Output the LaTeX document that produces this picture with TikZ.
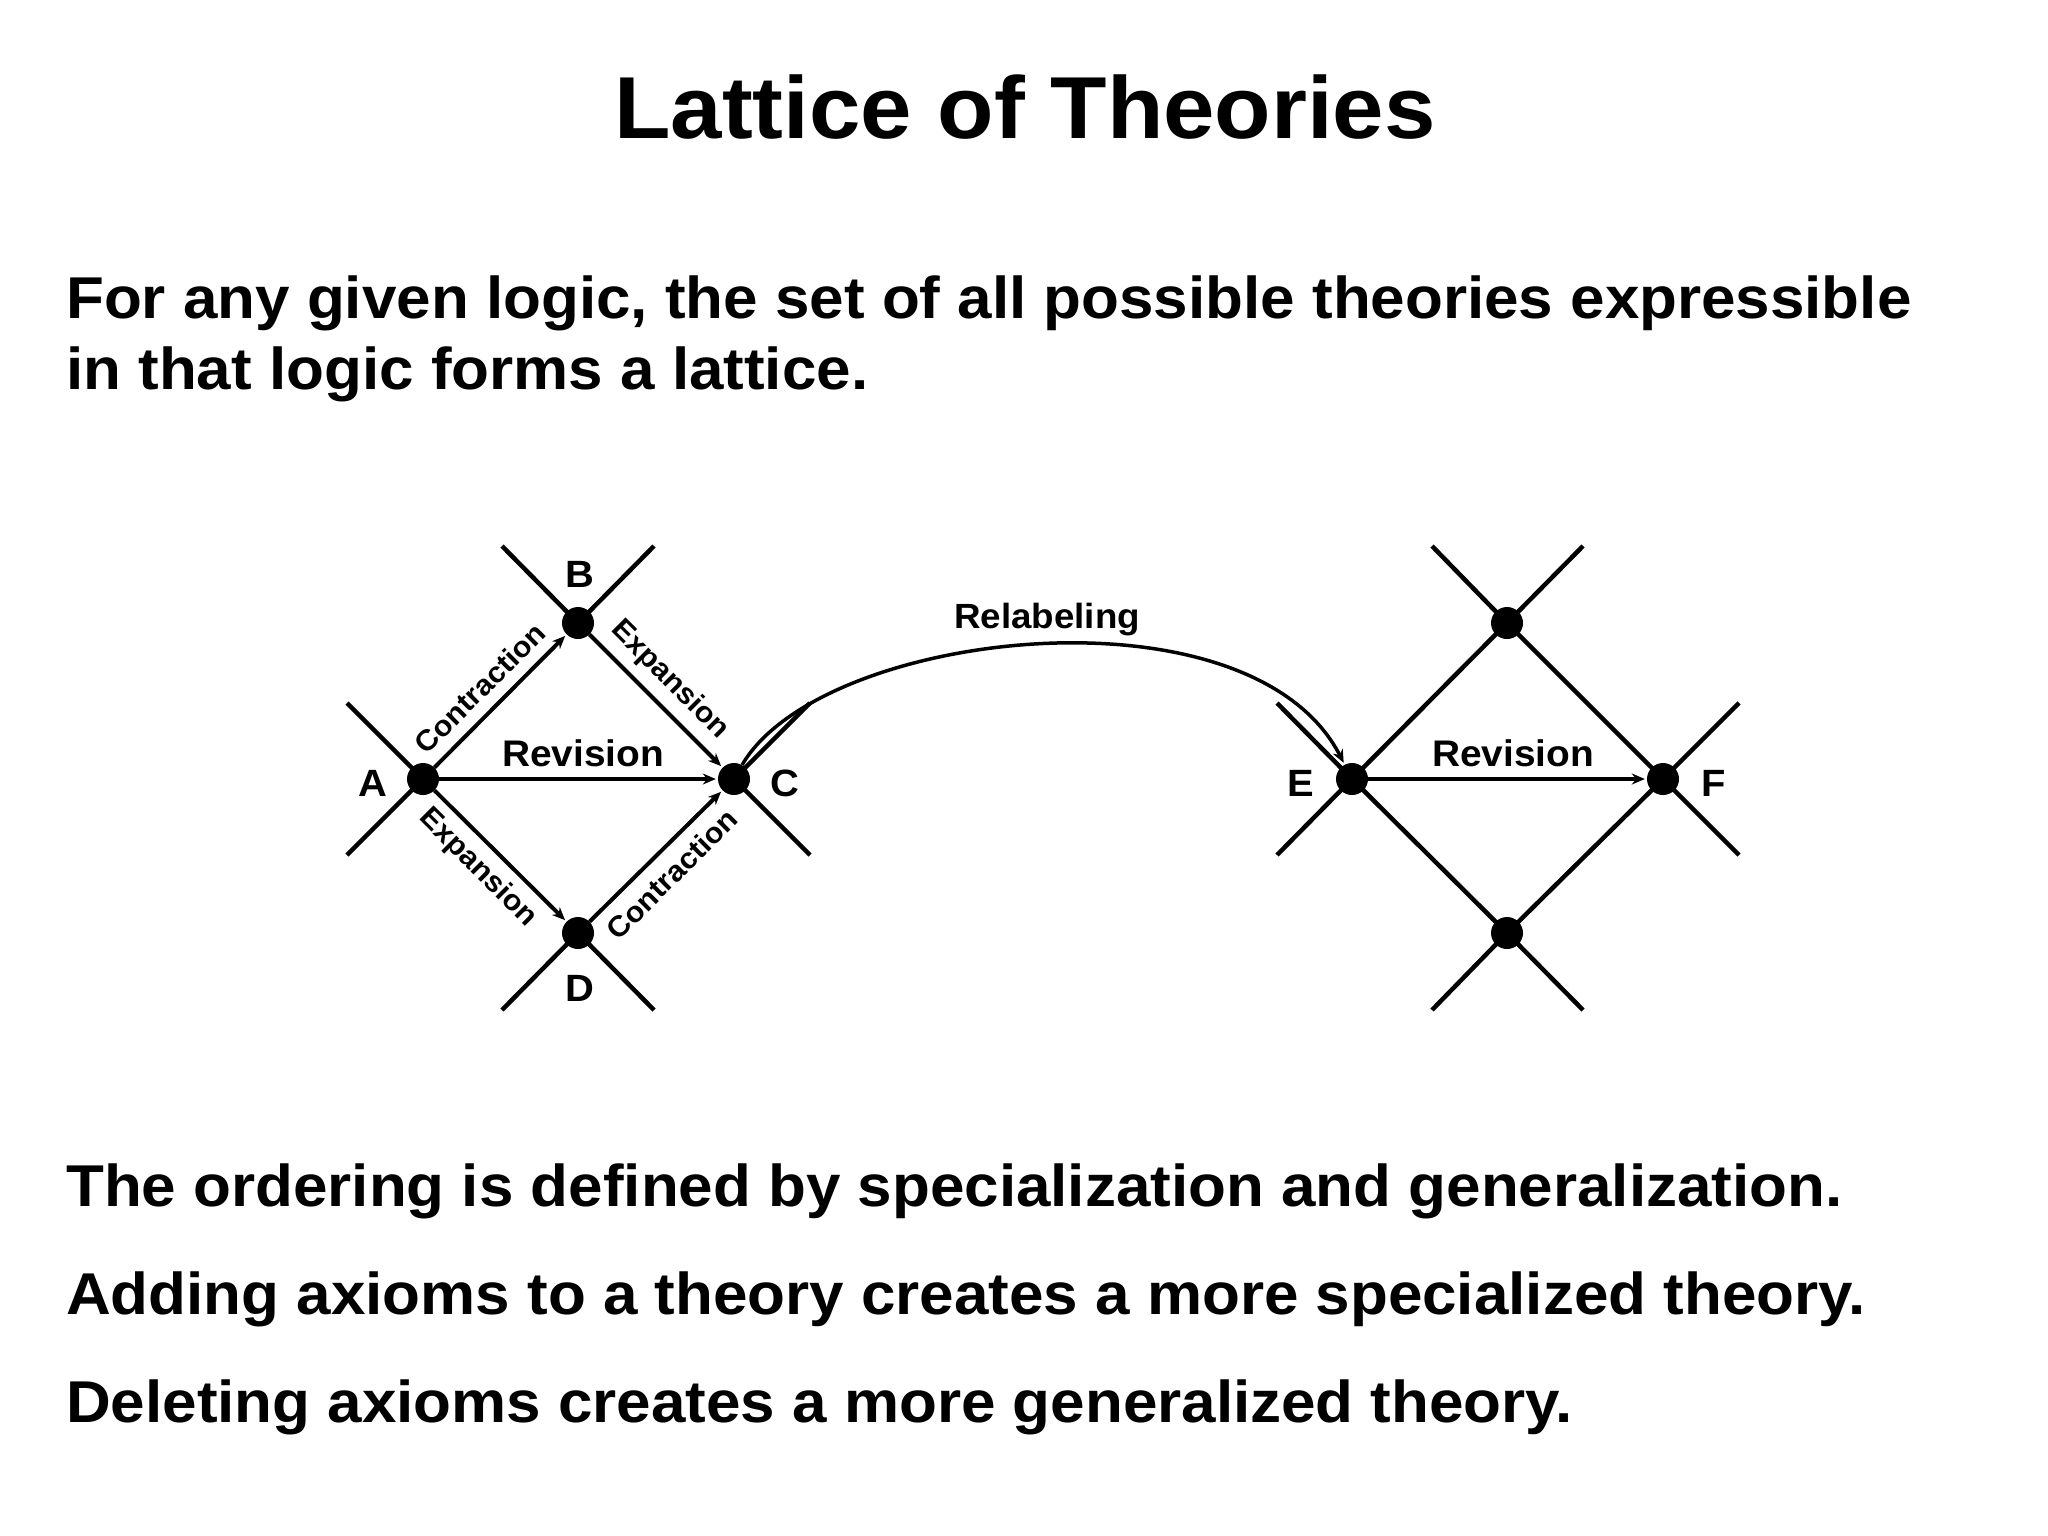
\documentclass[tikz,border=0pt]{standalone}
\usepackage{fontspec}
\setmainfont{Liberation Sans}[FakeStretch=1.05]
\usetikzlibrary{arrows.meta}
\begin{document}
\begin{tikzpicture}[x=1pt,y=-1pt,
  dot/.style={circle,fill=black,inner sep=0pt,minimum size=32pt},
  ln/.style={line width=4.5pt},
  arr/.style={line width=4pt,-{Stealth[length=13pt,width=11pt]},shorten >=2pt},
  lbl/.style={font=\fontsize{38}{40}\selectfont\bfseries},
  sm/.style={font=\fontsize{29}{30}\selectfont\bfseries},
  mid/.style={font=\fontsize{37}{40}\selectfont\bfseries},
  body/.style={font=\fontsize{59}{70}\selectfont\bfseries,anchor=base west,inner sep=0pt}]
\useasboundingbox (0,0) rectangle (2048,1535);
\node[font=\fontsize{88}{100}\selectfont\bfseries] (title) at (1025,107) {Lattice of Theories};
\node[body] (t1) at (66,318) {For any given logic, the set of all possible theories expressible};
\node[body] (t2) at (66,389) {in that logic forms a lattice.};
\node[body] (t3) at (66,1206) {The ordering is defined by specialization and generalization.};
\node[body] (t4) at (66,1314) {Adding axioms to a theory creates a more specialized theory.};
\node[body] (t5) at (66,1422) {Deleting axioms creates a more generalized theory.};
% left diamond
\node[dot] (A) at (423,779) {};
\node[dot] (B) at (578,623) {};
\node[dot] (C) at (734,779) {};
\node[dot] (D) at (578,933) {};
\coordinate (a1) at (347,703); \coordinate (a2) at (347,855);
\coordinate (b1) at (502,546); \coordinate (b2) at (654,546);
\coordinate (c1) at (810,703); \coordinate (c2) at (810,855);
\coordinate (d1) at (502,1010); \coordinate (d2) at (654,1010);
\draw[ln] (a1) -- (A.center); \draw[ln] (a2) -- (A.center);
\draw[ln] (b1) -- (B.center); \draw[ln] (b2) -- (B.center);
\draw[ln] (c1) -- (C.center); \draw[ln] (c2) -- (C.center);
\draw[ln] (d1) -- (D.center); \draw[ln] (d2) -- (D.center);
\draw[arr] (A) -- (B);
\draw[arr] (B) -- (C);
\draw[arr] (A) -- (D);
\draw[arr] (D) -- (C);
\draw[arr] (A) -- (C);
\node[lbl] (la) at (373,783) {A};
\node[lbl] (lb) at (580,574) {B};
\node[lbl] (lc) at (785,783) {C};
\node[lbl] (ld) at (580,988) {D};
\node[mid] (rev1) at (583,753) {Revision};
\node[sm,rotate=45] at (480,688) {Contraction};
\node[sm,rotate=-45] at (670,680) {Expansion};
\node[sm,rotate=-45] at (478,868) {Expansion};
\node[sm,rotate=45] at (672,874) {Contraction};
% right diamond
\node[dot] (E) at (1352,779) {};
\node[dot] (F) at (1663,779) {};
\node[dot] (G) at (1507,623) {};
\node[dot] (H) at (1507,933) {};
\coordinate (e1) at (1277,703); \coordinate (e2) at (1277,855);
\coordinate (f1) at (1739,703); \coordinate (f2) at (1739,855);
\coordinate (g1) at (1432,546); \coordinate (g2) at (1583,546);
\coordinate (h1) at (1432,1010); \coordinate (h2) at (1583,1010);
\draw[ln] (e1) -- (E.center); \draw[ln] (e2) -- (E.center);
\draw[ln] (f1) -- (F.center); \draw[ln] (f2) -- (F.center);
\draw[ln] (g1) -- (G.center); \draw[ln] (g2) -- (G.center);
\draw[ln] (h1) -- (H.center); \draw[ln] (h2) -- (H.center);
\draw[ln] (E.center) -- (G.center) -- (F.center) -- (H.center) -- cycle;
\draw[arr] (E) -- (F);
\node[lbl] (le) at (1301,783) {E};
\node[lbl] (lf) at (1714,783) {F};
\node[mid] (rev2) at (1513,753) {Revision};
% relabeling
\draw[arr,line width=3.5pt] (C) .. controls (820,630) and (1250,580) .. (E);
\node[mid,font=\fontsize{35}{36}\selectfont\bfseries] (rl) at (1047,620) {Relabeling};
\end{tikzpicture}
\end{document}
